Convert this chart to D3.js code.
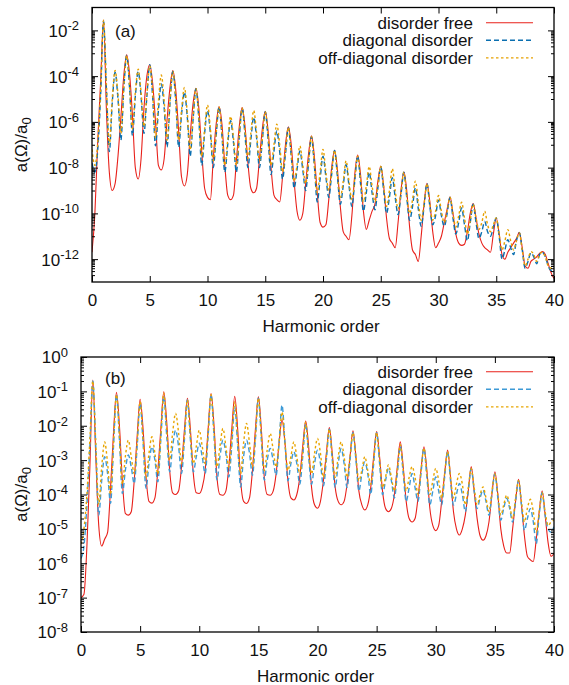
<!DOCTYPE html>
<html>
<head>
<meta charset="utf-8">
<script src="https://cdn.jsdelivr.net/npm/d3@7"></script>
<style>
  body { margin: 0; background: #fff; }
  text { font-family: "Liberation Sans", Arial, Helvetica, sans-serif; fill: #111; }
</style>
</head>
<body>
<script>
// harmonic order sampled every 0.25 (161 points), values are log10 of a(Omega)/a0
const harmonic = d3.range(0, 161).map(i => i / 4);

const seriesNames = ["disorder free", "diagonal disorder", "off-diagonal disorder"];
const xTickValues = [0, 5, 10, 15, 20, 25, 30, 35, 40];
const yLabelExpA = [-2, -4, -6, -8, -10, -12];
const yLabelExpB = [0, -1, -2, -3, -4, -5, -6, -7, -8];

// panel (a)
const redA = [
  -11.7,-10.0,-6.8,-4.2,  -1.55,-5.5,-8.2,-9.0,  -8.7,-7.5,-5.8,-4.0,  -3.07,-3.9,-5.7,-8.0,
  -8.5,-7.6,-5.4,-4.0,  -3.5,-4.3,-6.0,-7.9,  -8.1,-7.6,-5.9,-4.5,  -3.76,-4.6,-6.4,-8.4,
  -8.8,-8.3,-6.6,-5.2,  -4.53,-5.4,-7.3,-8.9,  -9.3,-9.4,-7.6,-6.1,  -5.34,-6.1,-7.9,-9.2,
  -9.4,-9.2,-7.7,-6.2,  -5.37,-6.2,-7.8,-8.9,  -9.1,-8.9,-7.6,-6.3,  -5.54,-6.4,-8.0,-9.2,
  -9.4,-9.5,-8.4,-7.0,  -6.22,-7.0,-8.6,-9.9,  -10.3,-10.0,-8.7,-7.4,  -6.61,-7.5,-9.1,-10.4,
  -10.6,-10.5,-9.4,-8.0,  -7.24,-8.1,-9.7,-10.8,  -11.0,-11.15,-10.1,-8.3,  -7.45,-8.3,-9.9,-10.7,
  -10.3,-9.9,-9.6,-8.6,  -7.93,-8.8,-10.2,-11.1,  -11.3,-11.5,-10.4,-9.0,  -8.19,-9.0,-10.6,-11.6,
  -11.8,-12.1,-11.0,-9.6,  -8.69,-9.5,-10.8,-11.5,  -11.3,-11.0,-10.4,-9.8,  -9.28,-10.0,-10.9,-11.3,
  -11.4,-11.35,-10.8,-10.0,  -9.57,-10.2,-10.9,-11.3,  -11.5,-11.6,-11.7,-10.9,  -10.2,-10.9,-11.8,-12.0,
  -11.7,-11.5,-11.3,-11.1,  -10.83,-11.5,-12.3,-12.4,  -12.1,-12.0,-11.9,-11.75,  -11.67,-11.8,-12.2,-12.6,
  -12.85
];
const blueA = [
  -7.8,-8.2,-7.2,-4.8,  -1.6,-4.6,-7.3,-5.2,  -3.83,-5.0,-6.8,-4.6,  -3.1,-4.5,-6.6,-4.9,
  -3.8,-4.9,-6.5,-4.9,  -3.5,-4.9,-7.05,-5.5,  -4.34,-5.4,-7.1,-5.2,  -3.8,-5.1,-7.1,-5.7,
  -4.7,-5.8,-7.5,-5.9,  -4.55,-5.9,-7.9,-6.5,  -5.5,-6.5,-8.0,-6.6,  -5.35,-6.6,-8.2,-7.0,
  -5.95,-6.9,-8.2,-6.7,  -5.4,-6.6,-8.0,-6.8,  -5.8,-6.7,-8.0,-6.8,  -5.55,-6.8,-8.3,-7.3,
  -6.4,-7.3,-8.5,-7.4,  -6.25,-7.5,-8.9,-8.1,  -7.27,-8.1,-9.0,-7.8,  -6.65,-7.9,-9.5,-8.5,
  -7.5,-8.4,-9.3,-8.3,  -7.25,-8.4,-9.6,-8.8,  -7.86,-8.8,-9.7,-8.6,  -7.5,-8.7,-9.9,-9.1,
  -8.2,-9.1,-9.84,-8.9,  -7.95,-9.0,-10.0,-9.3,  -8.44,-9.3,-10.05,-9.2,  -8.2,-9.3,-10.3,-9.7,
  -8.88,-9.8,-10.57,-9.7,  -8.7,-9.7,-10.5,-10.1,  -9.42,-10.1,-10.57,-10.0,  -9.3,-10.2,-10.9,-10.4,
  -9.76,-10.5,-11.2,-10.4,  -9.6,-10.4,-11.1,-10.8,  -10.35,-10.8,-11.0,-10.6,  -10.2,-11.0,-12.0,-11.6,
  -11.15,-11.5,-11.8,-11.2,  -10.85,-11.6,-12.4,-12.1,  -11.72,-11.9,-12.2,-11.8,  -11.7,-11.9,-12.3,-12.5,
  -12.45
];
const orangeA = [
  -7.2,-7.9,-6.9,-4.6,  -1.55,-4.4,-7.0,-5.0,  -3.75,-4.8,-6.5,-4.5,  -3.1,-4.4,-6.3,-4.7,
  -3.7,-4.7,-6.2,-4.8,  -3.55,-4.7,-6.7,-5.1,  -3.95,-5.1,-6.8,-5.1,  -3.8,-5.0,-6.8,-5.5,
  -4.5,-5.6,-7.2,-5.8,  -4.55,-5.8,-7.5,-6.3,  -5.26,-6.3,-7.7,-6.5,  -5.35,-6.5,-7.9,-6.8,
  -5.76,-6.7,-7.9,-6.6,  -5.4,-6.4,-7.6,-6.5,  -5.5,-6.5,-7.7,-6.7,  -5.55,-6.6,-7.9,-7.0,
  -6.1,-7.0,-8.2,-7.3,  -6.25,-7.4,-8.6,-7.9,  -7.05,-7.9,-8.7,-7.7,  -6.65,-7.8,-9.1,-8.2,
  -7.2,-8.2,-9.0,-8.2,  -7.25,-8.3,-9.3,-8.6,  -7.7,-8.6,-9.4,-8.5,  -7.5,-8.5,-9.5,-8.8,
  -7.95,-8.8,-9.5,-8.8,  -7.95,-8.8,-9.7,-9.0,  -8.05,-9.0,-9.8,-9.1,  -8.2,-9.2,-10.0,-9.4,
  -8.59,-9.5,-10.3,-9.6,  -8.7,-9.6,-10.3,-9.9,  -9.22,-9.9,-10.4,-9.9,  -9.3,-10.0,-10.6,-10.1,
  -9.51,-10.2,-10.9,-10.3,  -9.6,-10.2,-10.7,-10.4,  -9.9,-10.5,-10.8,-10.5,  -10.2,-10.9,-11.6,-11.2,
  -10.71,-11.2,-11.6,-11.2,  -10.85,-11.6,-12.3,-12.0,  -11.67,-11.8,-12.1,-11.8,  -11.7,-11.9,-12.3,-12.4,
  -12.4
];

// panel (b)
const redB = [
  -7.0,-6.9,-5.5,-3.2,  -0.67,-2.9,-4.9,-5.5,  -5.3,-5.1,-3.8,-2.2,  -1.03,-2.0,-3.6,-4.55,
  -4.6,-4.5,-3.6,-2.3,  -1.23,-2.1,-3.5,-4.2,  -4.25,-4.1,-3.3,-2.1,  -1.01,-1.9,-3.3,-3.95,
  -4.0,-3.9,-3.2,-2.1,  -1.2,-2.1,-3.4,-3.95,  -3.97,-3.8,-3.3,-2.1,  -1.06,-2.0,-3.5,-4.0,
  -4.02,-3.9,-3.2,-2.1,  -1.14,-2.1,-3.6,-4.2,  -4.26,-4.1,-3.3,-2.1,  -1.16,-2.1,-3.5,-4.0,
  -4.02,-3.9,-3.4,-2.5,  -1.83,-2.5,-3.6,-4.1,  -4.16,-4.0,-3.5,-2.6,  -1.86,-2.6,-3.8,-4.3,
  -4.4,-4.2,-3.6,-2.8,  -2.05,-2.8,-3.8,-4.2,  -4.3,-4.2,-3.7,-2.9,  -2.15,-2.9,-3.9,-4.3,
  -4.45,-4.3,-3.8,-2.9,  -2.17,-2.9,-3.9,-4.4,  -4.5,-4.4,-4.0,-3.2,  -2.47,-3.2,-4.2,-4.7,
  -4.8,-4.7,-4.1,-3.3,  -2.61,-3.3,-4.4,-4.9,  -5.05,-4.9,-4.2,-3.4,  -2.71,-3.5,-4.5,-5.0,
  -5.18,-5.0,-4.6,-3.9,  -3.19,-3.9,-4.7,-5.2,  -5.33,-5.2,-4.8,-4.0,  -3.34,-4.0,-5.0,-5.5,
  -5.7,-5.7,-5.0,-4.2,  -3.56,-4.3,-5.2,-5.8,  -5.9,-5.95,-5.3,-4.5,  -3.89,-4.6,-5.4,-5.8,
  -5.72
];
const blueB = [
  -5.86,-5.5,-4.3,-2.6,  -0.7,-2.6,-4.6,-3.6,  -2.9,-3.4,-4.26,-2.6,  -1.1,-2.4,-3.97,-3.3,
  -2.85,-3.2,-3.68,-2.6,  -1.35,-2.5,-3.82,-3.1,  -2.61,-3.0,-3.63,-2.4,  -1.15,-2.3,-3.34,-2.6,
  -2.13,-2.6,-3.39,-2.4,  -1.25,-2.4,-3.34,-2.9,  -2.51,-2.9,-3.39,-2.3,  -1.1,-2.3,-3.58,-2.9,
  -2.42,-2.8,-3.49,-2.6,  -1.45,-2.6,-3.78,-2.9,  -2.42,-2.8,-3.44,-2.4,  -1.2,-2.4,-3.58,-3.0,
  -2.66,-3.0,-3.44,-2.5,  -1.4,-2.5,-3.6,-3.1,  -2.76,-3.1,-3.7,-2.9,  -1.95,-2.9,-3.7,-3.1,
  -2.71,-3.1,-3.75,-3.0,  -2.1,-3.0,-3.8,-3.1,  -2.66,-3.1,-3.8,-3.0,  -2.2,-3.0,-3.9,-3.4,
  -3.05,-3.4,-4.0,-3.1,  -2.2,-3.1,-4.0,-3.6,  -3.24,-3.6,-4.1,-3.4,  -2.6,-3.4,-4.2,-3.8,
  -3.39,-3.8,-4.2,-3.4,  -2.65,-3.5,-4.3,-3.9,  -3.49,-3.9,-4.3,-3.5,  -2.75,-3.6,-4.31,-4.0,
  -3.68,-4.0,-4.5,-3.9,  -3.25,-3.9,-4.41,-4.1,  -3.87,-4.2,-4.6,-4.0,  -3.4,-4.1,-4.75,-4.4,
  -4.11,-4.4,-4.8,-4.2,  -3.6,-4.3,-5.04,-4.7,  -4.41,-4.8,-5.43,-4.6,  -3.95,-4.6,-5.0,-5.1,
  -4.94
];
const orangeB = [
  -5.43,-5.0,-4.0,-2.4,  -0.7,-2.5,-4.3,-3.2,  -2.47,-3.1,-4.0,-2.5,  -1.1,-2.3,-3.7,-2.9,
  -2.42,-2.9,-3.4,-2.5,  -1.3,-2.4,-3.5,-2.8,  -2.32,-2.8,-3.4,-2.3,  -1.05,-2.1,-3.0,-2.2,
  -1.64,-2.2,-3.1,-2.3,  -1.25,-2.3,-3.1,-2.6,  -2.13,-2.6,-3.1,-2.2,  -1.1,-2.2,-3.2,-2.6,
  -2.08,-2.6,-3.2,-2.4,  -1.3,-2.4,-3.4,-2.5,  -1.93,-2.5,-3.2,-2.3,  -1.2,-2.3,-3.3,-2.7,
  -2.22,-2.7,-3.2,-2.5,  -1.6,-2.5,-3.3,-2.9,  -2.47,-2.9,-3.4,-2.8,  -1.9,-2.8,-3.4,-2.8,
  -2.37,-2.8,-3.5,-2.9,  -2.1,-2.9,-3.5,-2.9,  -2.47,-2.9,-3.5,-2.9,  -2.2,-2.9,-3.6,-3.3,
  -2.9,-3.3,-3.7,-3.0,  -2.2,-3.0,-3.8,-3.5,  -3.14,-3.5,-3.9,-3.3,  -2.55,-3.3,-3.9,-3.5,
  -3.19,-3.5,-4.0,-3.3,  -2.65,-3.4,-4.0,-3.6,  -3.24,-3.6,-4.1,-3.4,  -2.75,-3.5,-4.1,-3.7,
  -3.39,-3.7,-4.3,-3.8,  -3.25,-3.8,-4.3,-4.0,  -3.78,-4.1,-4.5,-3.9,  -3.4,-4.0,-4.6,-4.3,
  -4.02,-4.3,-4.7,-4.1,  -3.6,-4.2,-4.8,-4.4,  -4.14,-4.5,-5.1,-4.5,  -3.95,-4.5,-4.9,-4.8,
  -4.75
];

const W = 569, H = 685;
const svg = d3.select("body").append("svg")
  .attr("width", W).attr("height", H)
  .style("background", "#fff");

const panels = [
  { tag: "(a)", left: 92, right: 554, top: 7.5, bottom: 282, dom: [1e-13, 1e-1],
    labelExp: yLabelExpA, minorExp: [-3, -5, -7, -9, -11, -13], minorK: [1,2,3,4,5,6,7,8,9],
    labelX: 13, tagX: 115, tagY: 37, legY: 22.7,
    series: [redA, blueA, orangeA], colors: ["#e8201a", "#0a6fb0", "#e6a000"] },
  { tag: "(b)", left: 81, right: 554, top: 357, bottom: 632, dom: [1e-8, 1],
    labelExp: yLabelExpB, minorExp: [-1, -2, -3, -4, -5, -6, -7, -8], minorK: [2,3,4,5,6,7,8,9],
    labelX: 13, tagX: 105, tagY: 384, legY: 371.7,
    series: [redB, blueB, orangeB], colors: ["#e8201a", "#3d9ad6", "#e8a500"] }
];
const dashes = [null, "5,3", "2.5,2.5"];
const widths = [1.1, 1.4, 1.4];

panels.forEach((p, pi) => {
  const x = d3.scaleLinear().domain([0, 40]).range([p.left, p.right]);
  const y = d3.scaleLog().domain(p.dom).range([p.bottom, p.top]);
  const g = svg.append("g");

  const clipId = "clip" + pi;
  g.append("clipPath").attr("id", clipId)
    .append("rect")
    .attr("x", p.left).attr("y", p.top)
    .attr("width", p.right - p.left).attr("height", p.bottom - p.top);

  // curves
  const line = d3.line()
    .x(d => x(d[0]))
    .y(d => y(Math.pow(10, d[1])))
    .curve(d3.curveMonotoneX);

  p.series.forEach((s, si) => {
    g.append("path")
      .datum(harmonic.map((h, i) => [h, s[i]]))
      .attr("clip-path", "url(#" + clipId + ")")
      .attr("fill", "none")
      .attr("stroke", p.colors[si])
      .attr("stroke-width", widths[si])
      .attr("stroke-dasharray", dashes[si])
      .attr("d", line);
  });

  // axes
  const styleAxis = sel => {
    sel.select(".domain").remove();
    sel.selectAll(".tick line").attr("stroke", "#000").attr("stroke-width", 1);
    sel.selectAll("text").style("font-size", "17px").attr("fill", "#111")
      .style("font-family", "'Liberation Sans', Arial, sans-serif");
  };

  g.append("g").attr("transform", "translate(0," + p.bottom + ")")
    .call(d3.axisBottom(x).tickValues(xTickValues).tickSize(-6).tickPadding(11.5).tickFormat(d3.format("d")))
    .call(styleAxis);
  g.append("g").attr("transform", "translate(0," + p.top + ")")
    .call(d3.axisTop(x).tickValues(xTickValues).tickSize(-6).tickFormat(""))
    .call(styleAxis);

  const majors = p.labelExp.map(e => Math.pow(10, e));
  const minors = [];
  p.minorExp.forEach(e => p.minorK.forEach(k => {
    const v = k * Math.pow(10, e);
    if (v > p.dom[0] * 1.0001 && v < p.dom[1] * 0.9999) minors.push(v);
  }));

  const leftMajor = g.append("g").attr("transform", "translate(" + p.left + ",0)")
    .call(d3.axisLeft(y).tickValues(majors).tickSize(-6).tickPadding(p.labelX).tickFormat(""))
    .call(styleAxis);
  leftMajor.selectAll(".tick text").each(function(d) {
    const t = d3.select(this).attr("dy", "0.35em");
    t.append("tspan").text("10");
    t.append("tspan").attr("dy", -6.5).style("font-size", "13px").text(Math.round(Math.log10(d)));
  });
  g.append("g").attr("transform", "translate(" + p.left + ",0)")
    .call(d3.axisLeft(y).tickValues(minors).tickSize(-3).tickFormat(""))
    .call(styleAxis);
  g.append("g").attr("transform", "translate(" + p.right + ",0)")
    .call(d3.axisRight(y).tickValues(majors).tickSize(-6).tickFormat(""))
    .call(styleAxis);
  g.append("g").attr("transform", "translate(" + p.right + ",0)")
    .call(d3.axisRight(y).tickValues(minors).tickSize(-3).tickFormat(""))
    .call(styleAxis);

  // frame
  g.append("rect")
    .attr("x", p.left).attr("y", p.top)
    .attr("width", p.right - p.left).attr("height", p.bottom - p.top)
    .attr("fill", "none").attr("stroke", "#000").attr("stroke-width", 1.3);

  // axis titles
  g.append("text")
    .attr("x", (p.left + p.right) / 2 - 2).attr("y", p.bottom + 50)
    .attr("text-anchor", "middle").style("font-size", "17px")
    .text("Harmonic order");

  const yt = g.append("text")
    .attr("transform", "translate(27," + ((p.top + p.bottom) / 2) + ") rotate(-90)")
    .attr("text-anchor", "middle").style("font-size", "17px");
  yt.append("tspan").text("a(\u03A9)/a");
  yt.append("tspan").attr("dy", 4).style("font-size", "13px").text("0");

  g.append("text").attr("x", p.tagX).attr("y", p.tagY)
    .style("font-size", "17px").text(p.tag);

  // legend
  seriesNames.forEach((name, si) => {
    const ly = p.legY + si * 17.6;
    g.append("text").attr("x", 473).attr("y", ly + 6)
      .attr("text-anchor", "end").style("font-size", "17px").text(name);
    g.append("line")
      .attr("x1", 486).attr("x2", 533).attr("y1", ly).attr("y2", ly)
      .attr("stroke", p.colors[si]).attr("stroke-width", widths[si])
      .attr("stroke-dasharray", dashes[si]);
  });
});
</script>
</body>
</html>
